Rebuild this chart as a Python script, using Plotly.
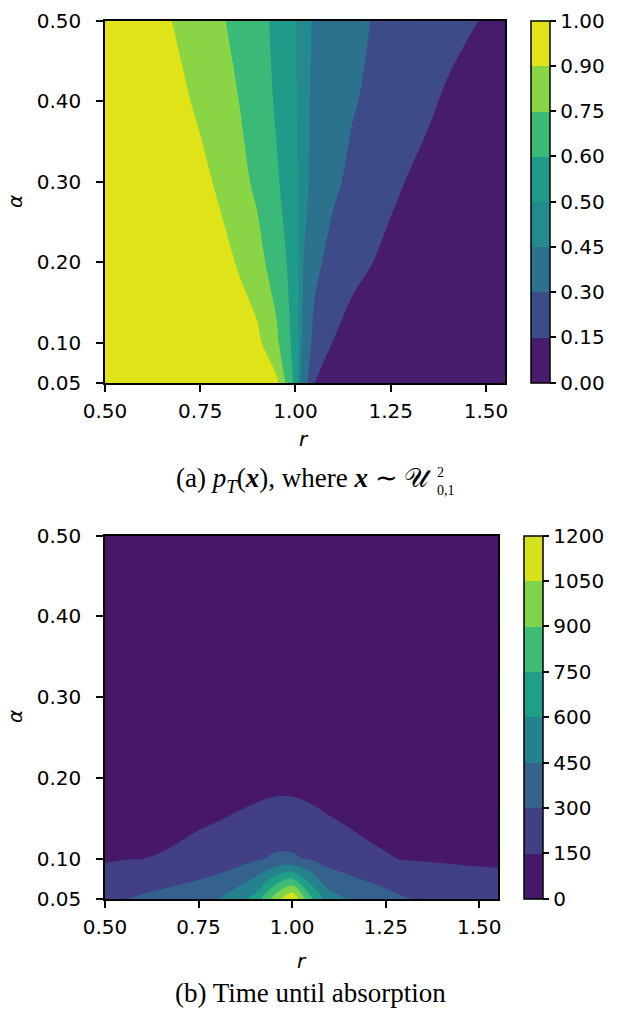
import numpy as np
import plotly.graph_objects as go

# ---------------- data ----------------
r_values = [0.50, 0.55, 0.60, 0.65, 0.70, 0.75, 0.80, 0.85, 0.90, 0.95, 1.00,
            1.05, 1.10, 1.15, 1.20, 1.25, 1.30, 1.35, 1.40, 1.45, 1.50, 1.55]
alpha_values = [0.05, 0.10, 0.20, 0.30, 0.40, 0.50]

# (a) p_T(x): one row per alpha, one column per r
p_alpha_005 = [1.0, 1.0, 1.0, 0.999, 0.998, 0.997, 0.995, 0.99, 0.975, 0.93, 0.55,
               0.148, 0.08, 0.05, 0.03, 0.02, 0.013, 0.009, 0.006, 0.004, 0.003, 0.002]
p_alpha_010 = [1.0, 0.999, 0.998, 0.997, 0.995, 0.99, 0.98, 0.965, 0.935, 0.78, 0.54,
               0.25, 0.145, 0.10, 0.07, 0.05, 0.035, 0.025, 0.018, 0.013, 0.01, 0.008]
p_alpha_020 = [1.0, 0.998, 0.995, 0.99, 0.982, 0.97, 0.945, 0.89, 0.80, 0.68, 0.53,
               0.34, 0.24, 0.185, 0.152, 0.12, 0.095, 0.075, 0.06, 0.05, 0.042, 0.035]
p_alpha_030 = [0.999, 0.995, 0.99, 0.98, 0.965, 0.935, 0.88, 0.80, 0.72, 0.615, 0.517,
               0.42, 0.33, 0.26, 0.21, 0.173, 0.142, 0.118, 0.098, 0.082, 0.07, 0.06]
p_alpha_040 = [0.998, 0.99, 0.98, 0.96, 0.925, 0.875, 0.815, 0.752, 0.672, 0.585, 0.506,
               0.432, 0.37, 0.313, 0.27, 0.233, 0.198, 0.165, 0.135, 0.11, 0.09, 0.075]
p_alpha_050 = [0.995, 0.985, 0.965, 0.925, 0.875, 0.82, 0.77, 0.71, 0.64, 0.575, 0.503,
               0.44, 0.39, 0.34, 0.297, 0.27, 0.24, 0.21, 0.185, 0.163, 0.142, 0.125]
p_levels = [0.00, 0.15, 0.30, 0.45, 0.50, 0.60, 0.75, 0.90, 1.00]
p_level_labels = ["0.00", "0.15", "0.30", "0.45", "0.50", "0.60", "0.75", "0.90", "1.00"]

# (b) time until absorption
t_alpha_005 = [230, 290, 320, 345, 370, 400, 445, 530, 650, 950, 1190,
               780, 510, 452, 400, 350, 310, 290, 270, 255, 245, 235]
t_alpha_010 = [140, 145, 149, 156.5, 170, 188, 205, 235, 280, 315, 317,
               285, 235, 200, 174, 158, 145, 139, 135, 130, 127, 124]
t_alpha_020 = [60, 65, 70, 75, 75, 80, 85, 87, 90, 100, 100,
               86, 75, 72, 70, 68, 65, 62, 60, 58, 56, 55]
t_alpha_030 = [35, 38, 40, 43, 45, 48, 50, 52, 55, 58, 58,
               52, 47, 45, 43, 41, 40, 38, 37, 36, 35, 34]
t_alpha_040 = [25, 27, 28, 30, 31, 33, 34, 35, 37, 38, 38,
               35, 33, 31, 30, 29, 28, 27, 26, 25, 25, 24]
t_alpha_050 = [19, 20, 21, 22, 23, 24, 25, 26, 27, 28, 28,
               26, 24, 23, 22, 21, 21, 20, 20, 19, 19, 18]
t_levels = [0, 150, 300, 450, 600, 750, 900, 1050, 1200]
t_level_labels = ["0", "150", "300", "450", "600", "750", "900", "1050", "1200"]

x_ticks = [0.50, 0.75, 1.00, 1.25, 1.50]
x_tick_labels = ["0.50", "0.75", "1.00", "1.25", "1.50"]
y_ticks = [0.05, 0.10, 0.20, 0.30, 0.40, 0.50]
y_tick_labels = ["0.05", "0.10", "0.20", "0.30", "0.40", "0.50"]

p_grid = [p_alpha_005, p_alpha_010, p_alpha_020, p_alpha_030, p_alpha_040, p_alpha_050]
t_grid = [t_alpha_005, t_alpha_010, t_alpha_020, t_alpha_030, t_alpha_040, t_alpha_050]

# ---------------- styling helpers ----------------
VIRIDIS21 = ["#440154", "#471365", "#482475", "#463480", "#414487", "#3b528b", "#355f8d",
             "#2f6c8e", "#2a788e", "#25848e", "#21918c", "#1e9c89", "#22a884", "#2fb47c",
             "#44bf70", "#5ec962", "#7ad151", "#9bd93c", "#bddf26", "#dfe318", "#fde725"]


def _rgb(h):
    h = h.lstrip("#")
    return [int(h[i:i + 2], 16) for i in (0, 2, 4)]


def viridis(t):
    t = min(max(t, 0.0), 1.0) * 20
    i = min(int(t), 19)
    f = t - i
    a, b = _rgb(VIRIDIS21[i]), _rgb(VIRIDIS21[i + 1])
    return "rgb(%d,%d,%d)" % tuple(round(x + (y - x) * f) for x, y in zip(a, b))


def band_colors(levels):
    lo, hi = levels[0], levels[-1]
    return [viridis(((levels[i] + levels[i + 1]) / 2 - lo) / (hi - lo))
            for i in range(len(levels) - 1)]


def fill_scale(levels, colors, step):
    start = round(levels[0] + step, 9)
    end = round(levels[-1] - step, 9)
    nc = int(round((end - start) / step)) + 1
    scale = []
    for k in range(nc + 1):
        v = start - step / 2 + k * step
        idx = int(np.searchsorted(levels, v)) - 1
        idx = min(max(idx, 0), len(colors) - 1)
        lo = max(0.0, (k - 0.5) / nc)
        hi = min(1.0, (k + 0.5) / nc)
        scale.append([lo, colors[idx]])
        scale.append([hi, colors[idx]])
    return scale, start, end


def bar_scale(colors):
    n = len(colors)
    s = []
    for i, c in enumerate(colors):
        s.append([i / n, c])
        s.append([(i + 1) / n, c])
    return s


W, H = 617, 1010
FONT = "DejaVu Sans"
SERIF = "Liberation Serif"


def px(x):
    return x / W


def py(y):
    return 1 - y / H


fig = go.Figure()

panels = [
    dict(z=p_grid, levels=p_levels, labels=p_level_labels, step=0.05, xa="x", ya="y",
         cb_x=531, cb_top=20.7, cb_bot=383),
    dict(z=t_grid, levels=t_levels, labels=t_level_labels, step=150, xa="x2", ya="y2",
         cb_x=524, cb_top=535.7, cb_bot=899),
]

for p in panels:
    cols = band_colors(p["levels"])
    scale, start, end = fill_scale(p["levels"], cols, p["step"])
    fig.add_trace(go.Contour(
        x=r_values, y=alpha_values, z=p["z"],
        autocontour=False,
        contours=dict(start=start, end=end, size=p["step"], coloring="fill", showlines=False),
        line=dict(width=0),
        colorscale=scale, showscale=False, hoverinfo="skip",
        xaxis=p["xa"], yaxis=p["ya"],
    ))
    n = len(p["levels"]) - 1
    fig.add_trace(go.Scatter(
        x=[None], y=[None], mode="markers", hoverinfo="skip", showlegend=False,
        xaxis=p["xa"], yaxis=p["ya"],
        marker=dict(color=[0], cmin=0, cmax=n, colorscale=bar_scale(cols), showscale=True,
                    colorbar=dict(
                        x=px(p["cb_x"]), xanchor="left", xpad=0,
                        y=py(p["cb_top"]), yanchor="top", ypad=0,
                        len=p["cb_bot"] - p["cb_top"], lenmode="pixels",
                        thickness=18.5, thicknessmode="pixels",
                        outlinecolor="black", outlinewidth=1.5,
                        tickmode="array", tickvals=list(range(n + 1)), ticktext=p["labels"],
                        ticks="outside", ticklen=6, tickwidth=1.5, tickcolor="black",
                        tickfont=dict(family=FONT, size=20, color="black"),
                    )),
    ))

axis_common = dict(showline=True, linecolor="black", linewidth=1.5, mirror=True,
                   ticks="outside", ticklen=7, tickwidth=1.5, tickcolor="black",
                   showgrid=False, zeroline=False, automargin=False,
                   tickfont=dict(family=FONT, size=20, color="black"))

fig.update_layout(
    width=W, height=H, margin=dict(l=0, r=0, t=0, b=0, autoexpand=False),
    paper_bgcolor="white", plot_bgcolor="white", showlegend=False,
    xaxis=dict(domain=[px(105), px(505)], anchor="y", range=[0.5, 1.55], ticklabelstandoff=2,
               tickmode="array", tickvals=x_ticks, ticktext=x_tick_labels, **axis_common),
    yaxis=dict(domain=[py(383), py(20.7)], anchor="x", range=[0.05, 0.5], ticklabelstandoff=11,
               tickmode="array", tickvals=y_ticks, ticktext=y_tick_labels, **axis_common),
    xaxis2=dict(domain=[px(105), px(498)], anchor="y2", range=[0.5, 1.55], ticklabelstandoff=2,
                tickmode="array", tickvals=x_ticks, ticktext=x_tick_labels, **axis_common),
    yaxis2=dict(domain=[py(899), py(535.7)], anchor="x2", range=[0.05, 0.5], ticklabelstandoff=11,
                tickmode="array", tickvals=y_ticks, ticktext=y_tick_labels, **axis_common),
)

lab_font = dict(family=FONT, size=20, color="black")
cap_font = dict(family=SERIF, size=27, color="black")
ann = [
    dict(text="<i>r</i>", x=px(304), y=py(439), font=lab_font),
    dict(text="<i>r</i>", x=px(302), y=py(961), font=lab_font),
    dict(text="<i>α</i>", x=px(15), y=py(202), font=lab_font, textangle=-90),
    dict(text="<i>α</i>", x=px(15), y=py(717), font=lab_font, textangle=-90),
    dict(text="(a) <i>p</i><sub><i>T</i></sub>(<b><i>x</i></b>), where <b><i>x</i></b> ∼ 𝒰",
         x=px(434), y=py(480), xanchor="right", font=cap_font),
    dict(text="2<br>0,1", x=px(435), y=py(481), xanchor="left", align="left",
         font=dict(family=SERIF, size=14, color="black")),
    dict(text="(b) Time until absorption", x=px(310), y=py(993), font=cap_font),
]
for a in ann:
    a.setdefault("xanchor", "center")
    a.update(xref="paper", yref="paper", showarrow=False, yanchor="middle")
    fig.add_annotation(**a)

fig.write_html("out.html")
